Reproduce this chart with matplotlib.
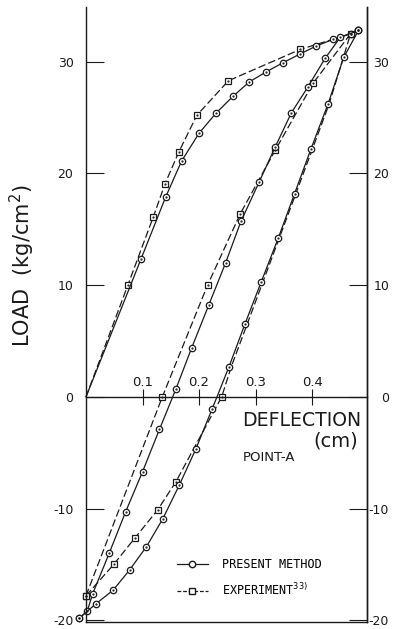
import matplotlib
matplotlib.use('Agg')
import matplotlib.pyplot as plt
from matplotlib.lines import Line2D

# Present method (circles, solid): loading, unloading, reloading branches
pm_load_x = [0, 0.097, 0.141, 0.169, 0.200, 0.230, 0.260, 0.289, 0.319, 0.348, 0.379, 0.407, 0.437, 0.468, 0.482]
pm_load_y = [0, 12.3, 17.9, 21.1, 23.6, 25.4, 26.9, 28.2, 29.1, 29.9, 30.7, 31.4, 32.0, 32.5, 32.8]

pm_unload_x = [0.482, 0.450, 0.423, 0.392, 0.363, 0.335, 0.306, 0.274, 0.247, 0.217, 0.187, 0.159,
               0.130, 0.100, 0.070, 0.041, 0.012, 0.002, -0.012]
pm_unload_y = [32.8, 32.2, 30.3, 27.7, 25.4, 22.4, 19.2, 15.7, 12.0, 8.2, 4.4, 0.7,
               -2.9, -6.7, -10.3, -14.0, -17.6, -19.2, -19.8]

pm_reload_x = [-0.012, 0.018, 0.048, 0.077, 0.107, 0.136, 0.165, 0.194, 0.223, 0.253, 0.281, 0.310,
               0.340, 0.369, 0.398, 0.428, 0.456, 0.482]
pm_reload_y = [-19.8, -18.5, -17.3, -15.5, -13.4, -10.9, -7.9, -4.7, -1.1, 2.7, 6.5, 10.3,
               14.2, 18.2, 22.2, 26.2, 30.4, 32.8]

# Experiment (squares, dashed)
ex_load_x = [0, 0.074, 0.119, 0.140, 0.164, 0.196, 0.252, 0.379, 0.468]
ex_load_y = [0, 10.0, 16.1, 19.1, 21.9, 25.2, 28.3, 31.1, 32.5]

ex_unload_x = [0.468, 0.402, 0.335, 0.273, 0.215, 0.135, 0.0]
ex_unload_y = [32.5, 28.1, 22.1, 16.4, 10.0, 0.0, -17.8]

ex_reload_x = [0.0, 0.049, 0.087, 0.127, 0.159, 0.240, 0.257, 0.313, 0.372, 0.430, 0.468]
ex_reload_y = [-17.8, -15.0, -12.6, -10.1, -7.6, 0.0, 2.7, 10.3, 18.3, 26.2, 32.5]
ex_reload_marked = [0, 1, 2, 3, 4, 5]

xticks = [0.1, 0.2, 0.3, 0.4]
yticks = [-20, -10, 0, 10, 20, 30]

ink = '#1a1a1a'
dash = (6, 2.5)

fig = plt.figure(figsize=(3.95, 6.29), dpi=100)
ax = fig.add_axes([0.2177, 0.0111, 0.7113, 0.9778])

circ = dict(color=ink, lw=0.9, marker='o', ms=4.6, mfc='white', mec=ink, mew=0.9, clip_on=False)
sq = dict(color=ink, lw=0.9, marker='s', ms=5.0, mfc='white', mec=ink, mew=0.9, clip_on=False)

ax.plot(ex_load_x, ex_load_y, dashes=dash, markevery=list(range(1, len(ex_load_x))), **sq)
ax.plot(ex_unload_x, ex_unload_y, dashes=dash, markevery=list(range(1, len(ex_unload_x))), **sq)
ax.plot(ex_reload_x, ex_reload_y, dashes=dash, markevery=ex_reload_marked, **sq)

ax.plot(pm_load_x, pm_load_y, markevery=list(range(1, len(pm_load_x))), **circ)
ax.plot(pm_unload_x, pm_unload_y, **circ)
ax.plot(pm_reload_x, pm_reload_y, **circ)

# small dots in the centre of the symbols
for xs, ys in [(pm_load_x[1:], pm_load_y[1:]), (pm_unload_x, pm_unload_y), (pm_reload_x, pm_reload_y),
               (ex_load_x[1:], ex_load_y[1:]), (ex_unload_x[1:], ex_unload_y[1:]),
               ([ex_reload_x[i] for i in ex_reload_marked], [ex_reload_y[i] for i in ex_reload_marked])]:
    ax.plot(xs, ys, ls='none', marker='.', ms=1.2, color=ink, clip_on=False)

ax.set_xlim(0, 0.497)
ax.set_ylim(-20.15, 34.9)

# x axis drawn at load = 0
ax.spines['top'].set_position(('data', 0))
ax.xaxis.tick_top()
ax.set_xticks(xticks)
ax.set_xticklabels(['0.1', '0.2', '0.3', '0.4'])
ax.tick_params(axis='x', direction='inout', length=12, width=0.8, pad=0, labelsize=9.5, colors=ink)

ax.set_yticks(yticks)
ax.set_yticklabels([str(v) for v in yticks])
ax.tick_params(axis='y', direction='in', length=13, width=0.8, pad=9, labelsize=9, colors=ink)

ax2 = ax.twinx()
ax2.set_ylim(ax.get_ylim())
ax2.set_yticks(yticks)
ax2.set_yticklabels([str(v) for v in yticks])
ax2.tick_params(axis='y', direction='in', length=13, width=0.8, pad=16, labelsize=9, colors=ink)
for lbl in ax2.get_yticklabels():
    lbl.set_horizontalalignment('right')
for s in ['top', 'left', 'bottom']:
    ax2.spines[s].set_visible(False)

for a in (ax, ax2):
    for s in a.spines.values():
        s.set_linewidth(1.0)
        s.set_color(ink)

ax.set_ylabel('LOAD  (kg/cm$^2$)', fontsize=15, color=ink)
ax.yaxis.set_label_coords(-0.175, 0.58)

ax.text(0.2755, -2.6, 'DEFLECTION', fontsize=13.6, color=ink, ha='left', va='baseline')
ax.text(0.482, -4.45, '(cm)', fontsize=14, color=ink, ha='right', va='baseline')
ax.text(0.278, -5.7, 'POINT-A', fontsize=9.5, color=ink, ha='left', va='baseline')

handles = [Line2D([], [], color=ink, lw=0.9, marker='o', ms=4.6, mfc='white', mec=ink),
           Line2D([], [], color=ink, lw=0.9, marker='s', ms=5.0, mfc='white', mec=ink, dashes=(3, 1.5))]
ax.legend(handles, ['PRESENT METHOD', 'EXPERIMENT$^{33)}$'], loc='upper left',
          bbox_to_anchor=(0.324, 0.104), frameon=False, borderpad=0, borderaxespad=0,
          handlelength=2.6, handletextpad=1.2, labelspacing=0.95, numpoints=1,
          prop={'family': 'DejaVu Sans Mono', 'size': 8.5})

fig.savefig('out.png', dpi=100)
